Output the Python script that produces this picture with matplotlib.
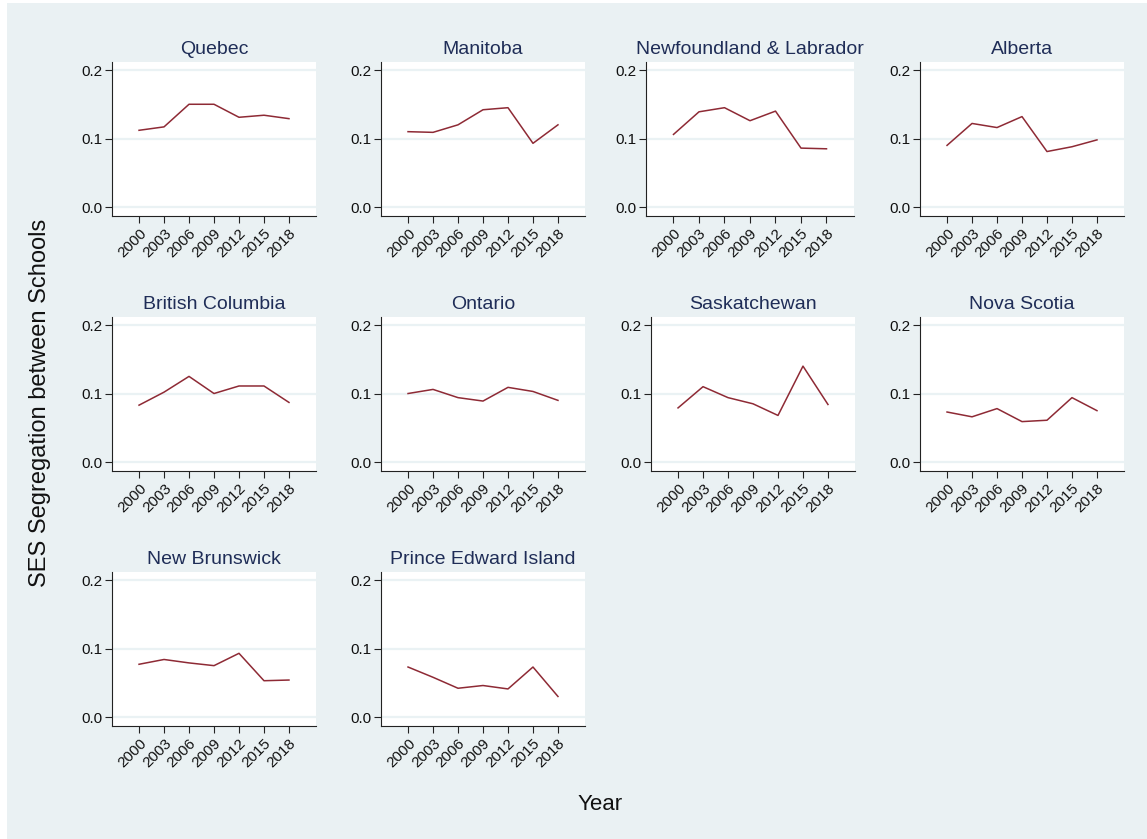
import matplotlib
matplotlib.use("Agg")
import matplotlib.pyplot as plt
from matplotlib.patches import Rectangle

plt.rcParams['font.family'] = ['Liberation Sans', 'DejaVu Sans']

years = [2000, 2003, 2006, 2009, 2012, 2015, 2018]

quebec = [0.112, 0.117, 0.150, 0.150, 0.131, 0.134, 0.129]
manitoba = [0.110, 0.109, 0.120, 0.142, 0.145, 0.093, 0.120]
newfoundland = [0.106, 0.139, 0.145, 0.126, 0.140, 0.086, 0.085]
alberta = [0.090, 0.122, 0.116, 0.132, 0.081, 0.088, 0.098]
british_columbia = [0.083, 0.102, 0.125, 0.100, 0.111, 0.111, 0.087]
ontario = [0.100, 0.106, 0.094, 0.089, 0.109, 0.103, 0.090]
saskatchewan = [0.079, 0.110, 0.094, 0.085, 0.068, 0.140, 0.084]
nova_scotia = [0.073, 0.066, 0.078, 0.059, 0.061, 0.094, 0.075]
new_brunswick = [0.077, 0.084, 0.079, 0.075, 0.093, 0.053, 0.054]
pei = [0.073, 0.058, 0.042, 0.046, 0.041, 0.073, 0.030]

provinces = ["Quebec", "Manitoba", "Newfoundland & Labrador", "Alberta",
             "British Columbia", "Ontario", "Saskatchewan", "Nova Scotia",
             "New Brunswick", "Prince Edward Island"]
series = [quebec, manitoba, newfoundland, alberta,
          british_columbia, ontario, saskatchewan, nova_scotia,
          new_brunswick, pei]

W, H = 1147, 839
bg = '#eaf1f3'
line_col = '#8e2a35'
title_col = '#1f2d57'

fig = plt.figure(figsize=(W / 100, H / 100), dpi=100)
fig.patches.append(Rectangle((7 / W, 0), 1 - 7 / W, 1 - 3 / H,
                             transform=fig.transFigure, facecolor=bg,
                             edgecolor='none', zorder=-10))

# panel geometry in pixels: centre x of the year axis, top of plot region
centres = [214, 483, 750, 1022, 214, 483, 753, 1022, 214, 483]
tops = [62, 62, 62, 62, 317, 317, 317, 317, 572, 572]
px_per_year = [8.33, 8.33, 8.5, 8.33, 8.33, 8.33, 8.33, 8.33, 8.33, 8.33]
plot_h = 154

for i, (name, vals) in enumerate(zip(provinces, series)):
    w = 24.4 * px_per_year[i]
    left = centres[i] - w / 2
    ax = fig.add_axes([left / W, 1 - (tops[i] + plot_h) / H, w / W, plot_h / H])
    ax.set_facecolor('white')
    ax.plot(years, vals, color=line_col, lw=1.1)
    ax.set_xlim(1996.8, 2021.2)
    ax.set_ylim(-0.0131, 0.2117)
    ax.set_yticks([0.0, 0.1, 0.2])
    ax.set_yticklabels(['0.0', '0.1', '0.2'])
    ax.set_xticks(years)
    ax.set_xticklabels([str(y) for y in years], rotation=45,
                       ha='right', va='top', rotation_mode='anchor')
    ax.grid(axis='y', color='#eaf2f4', lw=1.6)
    ax.set_axisbelow(True)
    for s in ['top', 'right']:
        ax.spines[s].set_visible(False)
    for s in ['left', 'bottom']:
        ax.spines[s].set_color('#222222')
        ax.spines[s].set_linewidth(0.8)
    ax.tick_params(axis='both', labelsize=11, length=5, width=0.8,
                   color='#222222', labelcolor='#111111', pad=2)
    ax.set_title(name, fontsize=14, color=title_col, pad=6)

fig.text(40 / W, 1 - 403 / H, 'SES Segregation between Schools',
         rotation=90, ha='center', va='center', fontsize=17, color='#111111')
fig.text(600 / W, 1 - 805 / H, 'Year', ha='center', va='center',
         fontsize=16, color='#111111')

fig.savefig('out.png', dpi=100)
